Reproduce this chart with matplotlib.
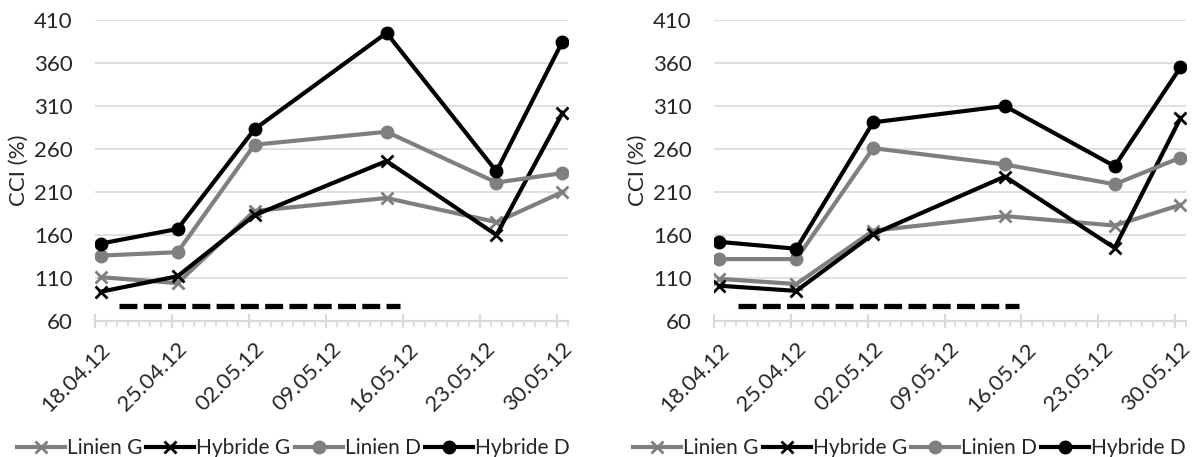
import datetime as dt
import matplotlib
matplotlib.use("Agg")
import matplotlib.pyplot as plt
import matplotlib.dates as mdates
import matplotlib.transforms as mtrans
from matplotlib.ticker import MultipleLocator

# sampling dates
dates = [dt.date(2012, 4, 18), dt.date(2012, 4, 25), dt.date(2012, 5, 2),
         dt.date(2012, 5, 14), dt.date(2012, 5, 24), dt.date(2012, 5, 30)]

# CCI (%) - left panel
left_linien_g = [111, 104, 188, 203, 175, 210]
left_hybride_g = [94, 112, 183, 246, 160, 302]
left_linien_d = [136, 140, 265, 280, 221, 232]
left_hybride_d = [150, 167, 283, 395, 234, 385]

# CCI (%) - right panel
right_linien_g = [109, 103, 165, 182, 171, 195]
right_hybride_g = [101, 95, 161, 228, 145, 296]
right_linien_d = [132, 132, 261, 242, 219, 250]
right_hybride_d = [152, 144, 291, 310, 240, 355]

# dashed period bar (start, end, level)
bar_left = (dt.date(2012, 4, 20), dt.date(2012, 5, 16), 77)
bar_right = (dt.date(2012, 4, 20), dt.date(2012, 5, 16), 77)

yticks = [60, 110, 160, 210, 260, 310, 360, 410]
names = ["Linien G", "Hybride G", "Linien D", "Hybride D"]
grey = "#7f7f7f"
txt = "#262626"
gridc = "#d9d9d9"
fs = 16

plt.rcParams["font.family"] = ["Lato", "DejaVu Sans"]

fig = plt.figure(figsize=(11.97, 4.57), dpi=100)
ax1 = fig.add_axes([0.0794, 0.2976, 0.3951, 0.6586])
ax2 = fig.add_axes([0.5965, 0.2976, 0.3943, 0.6586])

x = [mdates.date2num(d) + 0.5 for d in dates]
x0 = mdates.date2num(dt.date(2012, 4, 18))
x1 = mdates.date2num(dt.date(2012, 5, 31))

shift = mtrans.ScaledTranslation(0.05, 0, fig.dpi_scale_trans)


def panel(ax, lg, hg, ld, hd, bar):
    ax.plot(x, lg, color=grey, lw=3, marker="x", ms=8, mew=2, label=names[0])
    ax.plot(x, hg, color="black", lw=3, marker="x", ms=8, mew=2, label=names[1])
    ax.plot(x, ld, color=grey, lw=3, marker="o", ms=9, label=names[2])
    ax.plot(x, hd, color="black", lw=3, marker="o", ms=9, label=names[3])

    bx = [mdates.date2num(bar[0]) + 0.2, mdates.date2num(bar[1]) - 0.25]
    ax.plot(bx, [bar[2], bar[2]], color="black", lw=3.8,
            dashes=(3.4, 1.2), dash_capstyle="butt")

    ax.set_xlim(x0, x1)
    ax.set_ylim(60, 410)
    ax.set_yticks(yticks)
    ax.grid(axis="y", color=gridc, lw=1.2)
    ax.set_axisbelow(True)
    for s in ["left", "right", "top"]:
        ax.spines[s].set_visible(False)
    ax.spines["bottom"].set_color(gridc)
    ax.spines["bottom"].set_linewidth(1.5)

    ax.set_xticks([x0 + 7 * i for i in range(7)])
    ax.xaxis.set_major_formatter(mdates.DateFormatter("%d.%m.%y"))
    ax.xaxis.set_minor_locator(MultipleLocator(1))
    ax.tick_params(axis="x", which="major", direction="inout", length=10,
                   width=1.5, color=gridc, labelsize=fs, labelcolor=txt, pad=8)
    ax.tick_params(axis="x", which="minor", direction="out", length=4,
                   width=1.2, color=gridc)
    ax.tick_params(axis="y", length=0, labelsize=fs, labelcolor=txt, pad=16)
    for lab in ax.get_xticklabels():
        lab.set_rotation(45)
        lab.set_ha("right")
        lab.set_rotation_mode("anchor")
        lab.set_transform(lab.get_transform() + shift)
    ax.set_ylabel("CCI (%)", fontsize=fs, color=txt)
    ax.yaxis.set_label_coords(-0.14, 0.5)


panel(ax1, left_linien_g, left_hybride_g, left_linien_d, left_hybride_d, bar_left)
panel(ax2, right_linien_g, right_hybride_g, right_linien_d, right_hybride_d, bar_right)

for ax, cx in [(ax1, 0.245), (ax2, 0.76)]:
    h, l = ax.get_legend_handles_labels()
    fig.legend(h, l, loc="center", bbox_to_anchor=(cx, 0.02), ncol=4,
               frameon=False, fontsize=15, handlelength=2.3, handletextpad=0.1,
               columnspacing=0.2, labelcolor=txt, borderaxespad=0, borderpad=0)

fig.savefig("out.png", dpi=100)
